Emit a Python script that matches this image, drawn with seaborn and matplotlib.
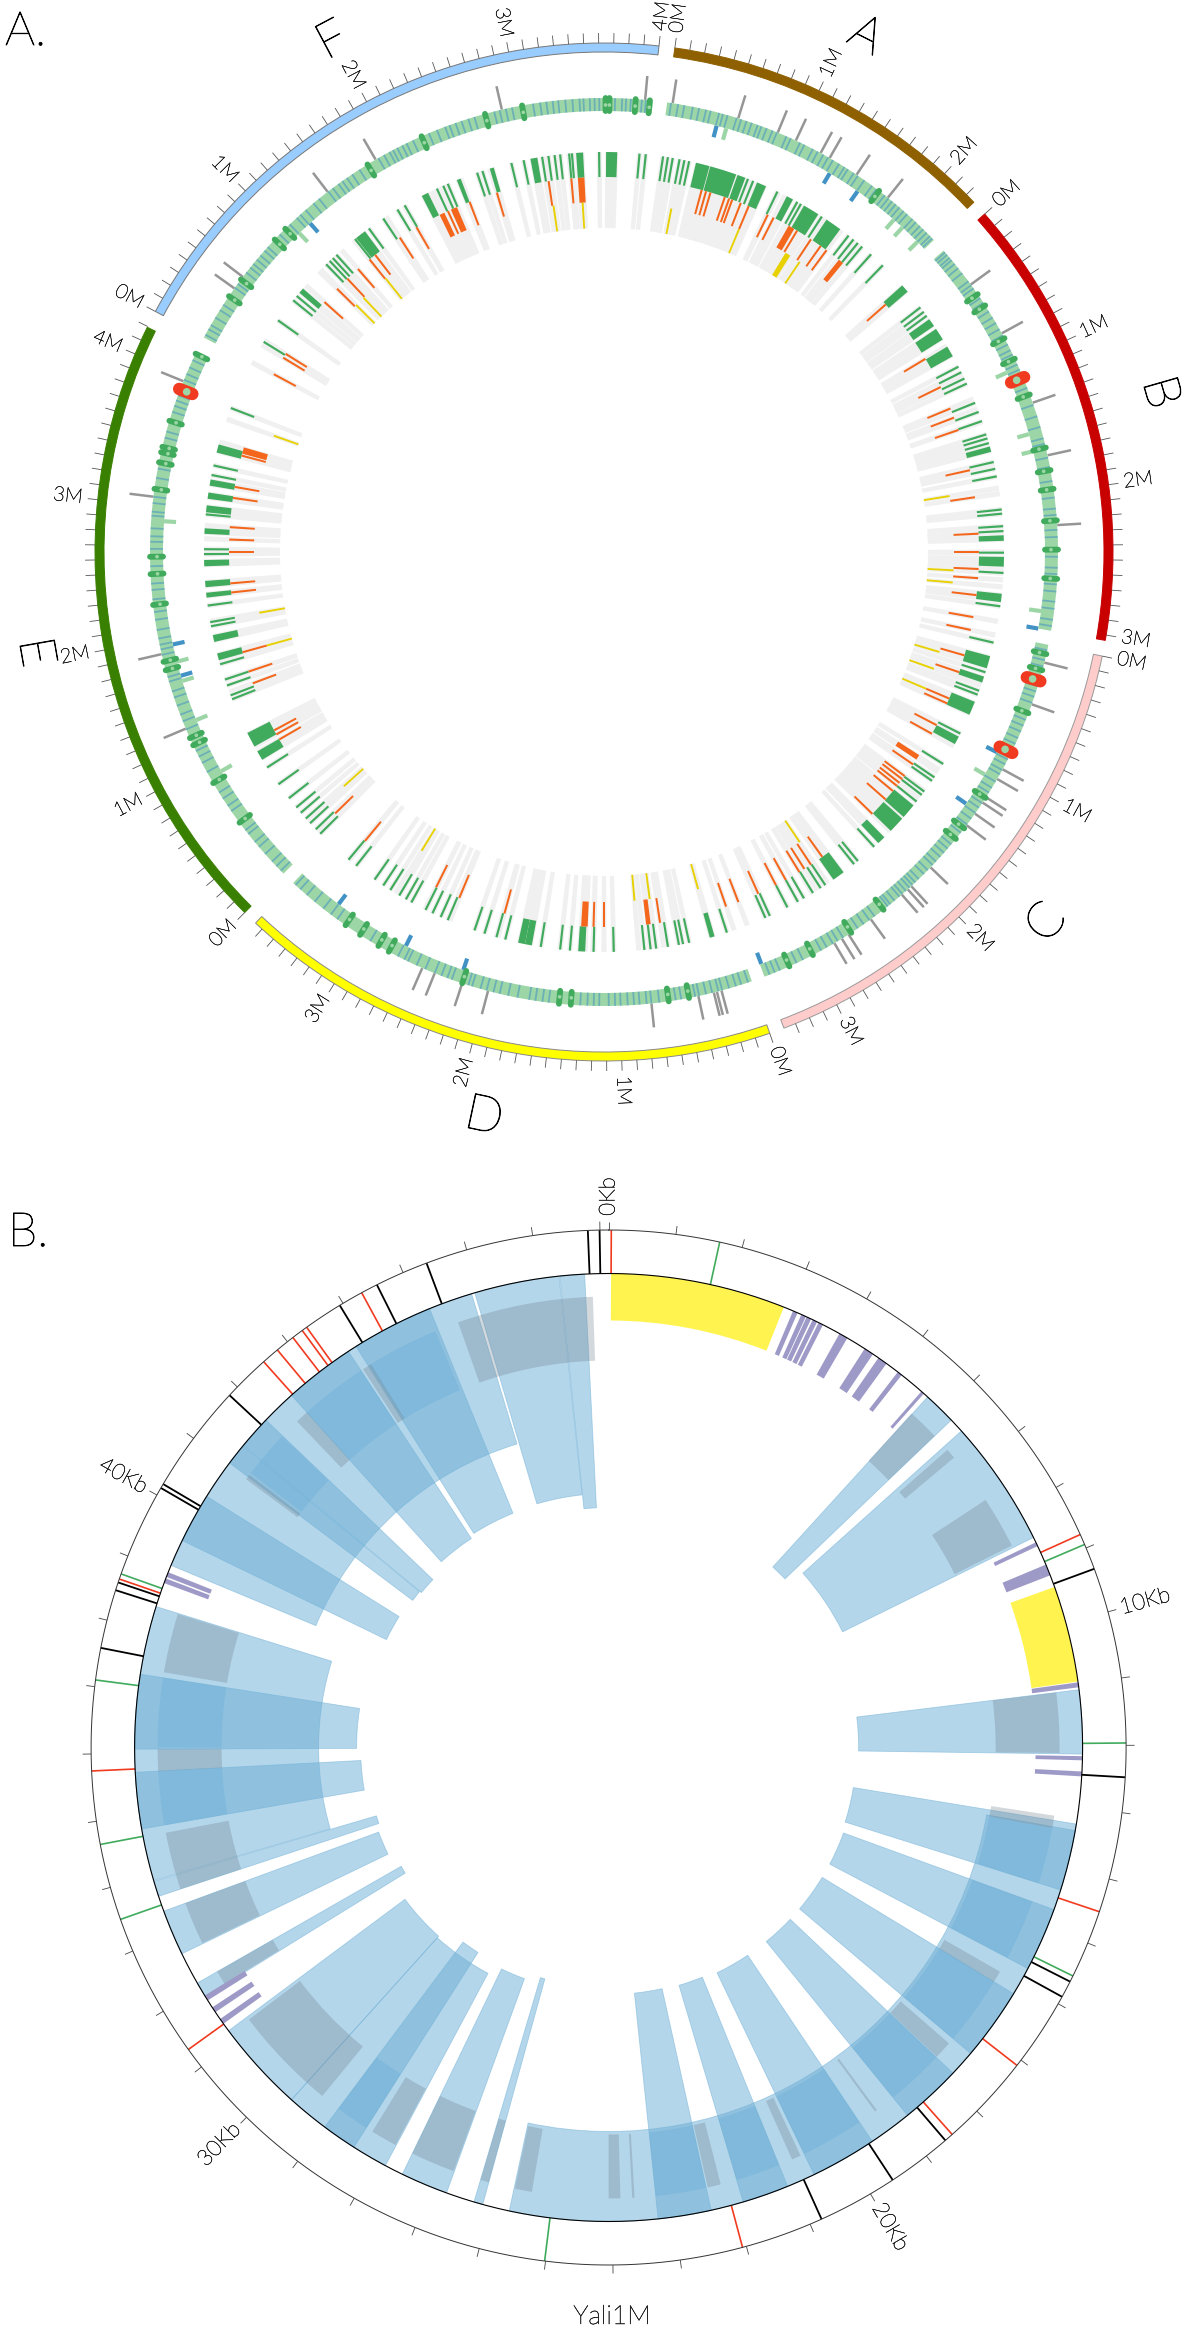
import numpy as np
import pandas as pd
import matplotlib
matplotlib.use("Agg")
import matplotlib.pyplot as plt
import matplotlib.patheffects as pe
import seaborn as sns

W, H = 1187, 2333

# ---- panel A: chromosomes (degrees clockwise from top) ----
chrom_names = ["A", "B", "C", "D", "E", "F"]
chrom_start = [8.0, 48.4, 101.8, 161.0, 224.9, 298.2]
chrom_end = [46.6, 100.0, 159.3, 223.2, 296.2, 366.2]
chrom_colors = ["#8f6000", "#c80000", "#ffcccc", "#ffff00", "#3a8000", "#99ccff"]
chrom_edges = ["#8f6000", "#c80000", "#999999", "#888888", "#3a8000", "#777777"]
chrom_mb_labels = [3, 4, 4, 4, 5, 5]
label_angle = [26.9, 74.0, 130.0, 192.0, 260.0, 332.0]
deg_per_mb = 17.0

# outer band stripes
band_blue = [
    8.5, 9.4, 10.2, 11.3, 12.1, 13.0, 13.6, 14.7, 15.2, 15.8, 17.0, 17.6, 18.3, 19.0, 19.8, 20.3, 21.0, 21.8,
    22.4, 23.7, 24.3, 25.6, 26.2, 27.4, 28.1, 28.9, 29.6, 30.3, 31.2, 32.0, 32.5, 33.4, 34.0, 35.0, 36.2, 36.9,
    38.2, 38.8, 39.4, 40.0, 40.6, 41.3, 41.9, 42.8, 43.4, 44.1, 44.7, 45.3, 45.9, 46.3,
    48.7, 49.1, 49.6, 50.0, 50.6, 51.3, 52.1, 53.4, 54.0, 54.5, 56.0, 56.7, 58.0, 58.9, 59.7, 60.6, 61.5, 62.8,
    63.6, 64.2, 65.6, 66.3, 68.0, 68.8, 71.1, 72.6, 74.0, 75.5, 76.2, 78.0, 79.2, 81.0, 83.1, 84.5, 85.3, 87.2,
    88.1, 90.6, 92.0, 92.8, 94.1, 95.0, 96.3, 97.2, 98.6, 99.4,
    102.5, 103.8, 104.6, 106.0, 107.2, 107.9, 108.6, 109.4, 111.7, 112.5, 113.3, 114.2, 115.0, 117.2, 117.9, 118.7,
    119.3, 120.4, 121.3, 122.0, 123.6, 124.3, 125.1, 126.0, 126.9, 128.2, 130.1, 130.8, 131.5, 132.2, 133.0, 133.6,
    134.5, 135.2, 136.1, 136.7, 137.2, 137.7, 138.3, 138.9, 139.4, 140.2, 140.9, 141.3, 143.4, 144.2, 145.1, 146.0,
    148.2, 149.0, 149.7, 150.6, 151.4, 154.0, 154.9, 157.2, 157.9, 158.6,
    161.5, 162.4, 163.1, 164.0, 164.9, 165.4, 166.2, 167.0, 167.9, 168.4, 170.2, 170.9, 173.0, 174.0, 174.6, 175.5,
    176.2, 177.0, 177.9, 178.6, 179.4, 180.6, 181.3, 182.1, 183.0, 187.0, 187.8, 188.7, 189.5, 191.0, 192.2, 193.3,
    194.1, 195.0, 195.8, 196.9, 197.4, 199.6, 200.2, 201.0, 201.9, 203.2, 204.4, 205.6, 206.1, 207.0, 211.0, 216.0,
    217.0, 218.2, 219.6, 220.9, 222.0, 222.8,
    225.4, 226.2, 227.0, 228.3, 229.5, 230.3, 231.6, 232.2, 235.2, 236.0, 237.1, 238.0, 241.0, 242.3, 243.2, 244.0,
    247.0, 248.1, 249.0, 250.2, 251.3, 252.1, 253.4, 254.0, 256.9, 257.6, 258.2, 259.0, 260.1, 261.4, 262.4, 264.0,
    265.2, 266.0, 268.2, 270.4, 271.3, 272.0, 273.0, 274.6, 275.1, 276.2, 277.0, 279.4, 280.6, 284.6, 285.4, 288.0,
    288.8, 289.5, 290.2, 292.3, 293.1, 294.0, 295.0,
    298.6, 299.4, 300.0, 301.1, 302.2, 303.0, 305.6, 306.2, 308.0, 308.8, 309.4, 310.1, 310.8, 311.6, 312.2, 314.4,
    316.2, 317.4, 318.0, 318.9, 320.2, 321.1, 322.6, 323.3, 324.2, 324.8, 325.5, 326.3, 327.4, 330.2, 331.0, 331.8,
    332.3, 332.9, 333.6, 334.2, 335.1, 337.3, 338.4, 339.5, 340.1, 340.9, 341.7, 342.6, 343.4, 346.0, 346.7, 347.5,
    348.3, 351.0, 351.9, 352.7, 353.5, 354.2, 355.1, 356.0, 356.9, 357.4, 358.2, 358.8, 359.4, 1.4, 2.3, 2.8, 3.4, 4.8, 5.3,
]
bead_green = [
    37.3, 55.4, 57.1, 61.9, 64.8, 69.7, 76.7, 79.6, 82.0, 86.0, 89.7, 93.4, 103.0, 105.1, 110.8, 122.8, 127.5, 129.2,
    142.0, 147.0, 152.6, 155.9, 169.2, 171.8, 184.2, 185.7, 198.2, 208.3, 209.8, 212.5, 214.7, 233.4, 239.4, 244.8,
    245.8, 254.9, 256.0, 263.3, 267.2, 269.4, 278.0, 281.4, 282.7, 283.4, 286.8, 295.9, 304.3, 306.9, 313.5, 315.4,
    328.6, 336.3, 344.8, 349.6, 0.2, 0.7, 4.0, 5.8,
]
bead_red = [67.4, 106.5, 116.2, 291.0]
spike_gray = [
    5.2, 8.7, 17.2, 22.5, 25.0, 28.5, 29.8, 33.8, 38.7, 53.9, 61.2, 70.8, 77.7, 86.6, 104.1, 109.6, 118.6, 120.0,
    122.7, 123.5, 125.2, 127.0, 134.0, 137.4, 138.0, 139.0, 144.0, 147.4, 148.4, 149.5, 165.0, 165.6, 166.0, 168.0, 174.0,
    194.8, 198.2, 201.9, 203.6, 247.1, 257.0, 277.0, 292.1, 305.5, 307.3, 322.5, 329.8, 347.0,
]
stub_blue = [14.8, 30.8, 35.1, 100.0, 117.0, 124.8, 159.1, 198.6, 206.7, 217.0, 253.7, 257.9, 318.2]
stub_light = [16.1, 41.1, 42.6, 45.3, 66.0, 74.5, 76.8, 97.7, 120.3, 240.2, 247.6, 253.0, 255.6, 274.0, 316.3]

# inner track
green_thin = [
    359.3, 5.1, 6.0, 8.5, 9.2, 9.9, 10.9, 11.6, 12.3, 21.1, 21.9, 25.7, 28.9, 29.5, 33.0, 37.7, 38.6, 39.4, 40.2,
    41.9, 44.2, 52.3, 53.1, 53.8, 62.4, 63.3, 64.3, 65.1, 68.1, 69.5, 70.9, 72.9, 73.5, 74.2, 77.0, 78.0, 79.1,
    83.9, 84.5, 86.3, 87.0, 90.1, 93.0, 97.8, 103.1, 107.5, 110.3, 110.9, 117.0, 122.0, 124.3, 124.9, 126.8, 127.4,
    128.6, 137.5, 140.6, 141.3, 146.4, 147.2, 148.5, 150.0, 151.0, 152.7, 155.5, 156.2, 162.1, 167.7, 168.6, 169.2,
    170.8, 172.5, 173.3, 174.2, 178.6, 181.5, 184.9, 186.3, 189.1, 194.3, 195.6, 197.4, 198.9, 203.0, 204.1, 205.4,
    206.5, 208.8, 209.7, 210.8, 212.3, 213.5, 215.0, 218.3, 219.7, 225.2, 226.1, 227.3, 228.2, 229.3, 230.3, 232.0,
    234.5, 237.4, 248.4, 249.0, 250.5, 251.4, 253.7, 259.3, 259.9, 262.3, 269.7, 270.4, 275.4, 281.1, 282.5, 291.1,
    301.7, 305.4, 309.0, 309.8, 316.0, 316.7, 317.3, 318.0, 321.5, 324.0, 326.5, 328.9, 330.1, 335.3, 336.3, 337.0,
    341.5, 342.3, 346.6, 348.4, 351.1, 352.0, 352.9, 353.7, 355.0, 355.4,
]
green_block_pos = [
    1.1, 14.3, 16.4, 18.3, 20.1, 23.2, 27.7, 31.2, 35.0, 48.8, 55.0, 57.0, 59.9, 75.1, 88.0, 91.4, 96.6, 106.0,
    108.6, 113.0, 118.1, 130.4, 133.0, 136.1, 144.1, 164.3, 183.2, 190.9, 191.9, 239.4, 242.0, 254.8, 257.5, 263.8,
    265.4, 268.4, 273.0, 276.2, 278.1, 280.0, 285.0, 310.8, 322.5, 333.4, 338.7, 343.7, 349.9, 356.5,
]
green_block_w = [
    1.6, 2.0, 2.0, 2.0, 1.2, 1.4, 1.0, 2.4, 2.4, 1.2, 1.2, 1.8, 1.6, 0.8, 0.8, 1.4, 1.2, 1.8,
    0.9, 2.0, 1.2, 2.2, 2.4, 1.2, 1.8, 0.7, 1.0, 1.0, 1.0, 1.4, 2.2, 1.0, 1.0, 0.7,
    0.9, 0.9, 0.8, 1.0, 0.9, 0.9, 1.2, 0.8, 1.6, 1.0, 0.6, 0.6, 1.0, 1.0,
]
orange_pos = [
    15.1, 15.8, 16.5, 18.8, 19.5, 20.0, 21.4, 22.7, 25.9, 26.9, 31.0, 33.5, 35.3, 36.4, 48.7, 59.0, 63.9, 67.5, 69.0,
    71.0, 77.4, 81.6, 87.2, 90.0, 92.6, 94.0, 96.6, 100.0, 102.0, 106.0, 108.7, 113.0, 113.8, 117.5, 119.0, 124.5,
    126.7, 127.3, 128.0, 128.6, 129.6, 131.3, 134.3, 144.4, 146.5, 147.7, 148.6, 151.0, 152.7, 155.7, 159.0, 161.0,
    171.4, 180.0, 181.6, 195.4, 202.7, 206.6, 219.6, 225.8, 240.0, 240.9, 241.6, 249.5, 251.4, 254.5, 263.8, 265.2,
    270.0, 271.9, 273.8, 278.3, 280.0, 284.9, 298.3, 301.2, 301.9, 311.8, 314.6, 316.8, 319.0, 321.3, 322.4, 327.0,
    330.0, 335.4, 339.0, 343.4, 351.5, 355.0,
]
orange_block_pos = [30.0, 39.2, 123.2, 173.2, 183.0, 285.7, 334.4, 336.4, 356.5]
orange_block_w = [1.0, 0.8, 0.8, 0.7, 1.0, 1.0, 0.8, 1.0, 1.0]
yellow_pos = [
    11.1, 22.7, 34.0, 80.8, 93.0, 95.0, 106.6, 109.5, 113.0, 146.0, 164.4, 172.5, 175.0, 211.4, 228.0, 254.5, 260.0,
    289.4, 314.9, 316.6, 321.4, 351.7, 356.5,
]
yellow_block_pos = [31.7]
yellow_block_w = [0.9]

# ---- panel B ----
kb_labels = [0, 10, 20, 30, 40]
deg_per_kb = 7.48
yellow_start = [0.3, 70.2]
yellow_end = [21.7, 82.0]
purple_pos = [23.2, 24.3, 25.0, 25.8, 26.6, 29.7, 33.3, 35.3, 37.9, 41.5, 64.6, 68.0, 82.4, 91.3, 93.2,
              234.7, 236.4, 238.1, 290.6, 291.4]
purple_w = [0.6, 0.6, 0.6, 0.6, 0.6, 1.1, 1.2, 1.2, 0.6, 0.4, 0.5, 1.4, 0.6, 0.5, 0.6, 0.7, 0.7, 0.7, 0.6, 0.6]
sector_start = [42.3, 48.1, 83.0, 99.3, 110.0, 121.3, 133.4, 146.2, 157.8, 167.5, 195.4, 200.0, 208.1, 212.5, 222.0,
                238.3, 244.2, 251.7, 260.1, 269.8, 295.9, 306.9, 309.6, 318.0, 327.8, 343.6, 354.1]
sector_end = [46.3, 63.7, 90.8, 107.5, 117.8, 130.2, 140.9, 154.3, 163.5, 174.0, 196.5, 205.8, 222.0, 216.8, 233.3,
              240.2, 249.8, 253.6, 267.0, 278.9, 302.0, 309.5, 313.7, 326.7, 337.8, 354.0, 357.1]
sector_inner = [244, 261, 250, 248, 250, 250, 250, 250, 248, 247, 240, 246, 256, 243, 254,
                239, 245, 242, 248, 252, 247, 245, 243, 250, 253, 254, 240]
band_start = [100.1, 253.7, 292.6]
band_end = [192.1, 287.3, 343.2]
band_inner = [384, 290, 317]
dark_start = [100.3, 110.0, 121.3, 133.4, 146.2, 157.8, 167.5, 212.5, 260.1, 270.0, 307.5, 318.0, 328.0]
dark_end = [107.5, 117.8, 130.2, 140.9, 154.3, 163.5, 174.0, 216.8, 267.0, 278.9, 313.6, 326.7, 337.4]
gray_start = [42.2, 48.7, 56.7, 83.0, 98.7, 119.8, 131.0, 143.5, 154.8, 165.6, 176.7, 178.5, 189.8, 195.4, 200.1,
              208.2, 219.4, 238.4, 244.3, 251.7, 267.0, 279.6, 306.5, 316.3, 327.0, 340.5]
gray_end = [46.3, 50.0, 63.4, 90.7, 100.3, 121.3, 133.3, 143.8, 156.0, 167.3, 177.0, 180.0, 192.0, 196.5, 205.8,
            211.6, 232.9, 240.2, 249.8, 259.1, 269.8, 287.2, 307.2, 318.0, 328.2, 358.0]
track_black = [93.3, 116.9, 118.8, 139.4, 146.7, 155.7, 281.1, 287.7, 288.6, 300.1, 300.6, 312.9, 328.7, 333.4, 339.4,
               357.7, 359.0, 69.8]
track_red = [0.3, 65.7, 108.5, 127.9, 138.4, 165.0, 234.3, 267.4, 289.0, 318.2, 320.2, 322.4, 323.7, 324.3, 331.5]
track_green = [12.4, 66.9, 89.5, 116.2, 187.1, 250.6, 259.2, 277.5, 289.6]

sns.set_theme(style="white")
plt.rcParams["font.family"] = ["Lato", "DejaVu Sans"]
light = sns.color_palette(["#9dd6a6", "#4292c6", "#41ab5d", "#f03b20"])


def polar_axes(fig, cx, cy, rmax):
    ax = fig.add_axes([(cx - rmax) / W, 1 - (cy + rmax) / H, 2 * rmax / W, 2 * rmax / H], polar=True)
    ax.set_theta_zero_location("N")
    ax.set_theta_direction(-1)
    return ax


def arc(ax, start, end, r0, r1, **kw):
    start, end = np.asarray(start, float), np.asarray(end, float)
    ax.bar(np.radians((start + end) / 2), r1 - r0, width=np.radians(end - start), bottom=r0, linewidth=kw.pop("linewidth", 0), **kw)


def radial(ax, pos, r0, r1, **kw):
    ax.vlines(np.radians(pos), r0, r1, **kw)


def strip(ax, pos, width, r0, r1, **kw):
    pos = np.asarray(pos, float)
    arc(ax, pos - np.asarray(width) / 2, pos + np.asarray(width) / 2, r0, r1, **kw)


def thin_text(color, stroke=0.35):
    # Lato Light comes out too pale, a hair of stroke brings it closer
    return dict(fontweight="light", color=color, path_effects=[pe.withStroke(linewidth=stroke, foreground=color)])


fig = plt.figure(figsize=(W / 100, H / 100), dpi=100, facecolor="white")

# panel A
ax = polar_axes(fig, 604, 552, 530)
for i, name in enumerate(chrom_names):
    s, e = chrom_start[i], chrom_end[i]
    arc(ax, s, e, 500, 509, color=chrom_colors[i], edgecolor=chrom_edges[i], linewidth=0.7)
    radial(ax, np.arange(s, e + 0.1, deg_per_mb / 10), 509, 519, color="#555555", linewidth=0.6)
    for mb in range(chrom_mb_labels[i]):
        t = s + mb * deg_per_mb
        rot = 90 - t if (t % 360) < 180 else 270 - t
        ax.text(np.radians(t), 539, f"{mb}M", rotation=rot, rotation_mode="anchor", ha="center", va="center",
                fontsize=14.5, **thin_text("#222222"))
    a = label_angle[i]
    rot = -a if (a < 90 or a > 270) else 180 - a
    ax.text(np.radians(a), 578, name, rotation=rot, rotation_mode="anchor", ha="center", va="center",
            fontsize=36, **thin_text("black", 0.6))
    arc(ax, s, e, 441, 454, color=light[0], zorder=2)

radial(ax, spike_gray, 454, 478, color="#969696", linewidth=1.8, zorder=1)
radial(ax, stub_light, 429, 441, color=light[0], linewidth=3, zorder=1)
radial(ax, stub_blue, 429, 441, color=light[1], linewidth=3, zorder=1)
radial(ax, band_blue, 441, 454, color=light[1], linewidth=1.3, alpha=0.55, zorder=3)
radial(ax, bead_green, 441, 454, color=light[2], linewidth=4.2, capstyle="round", zorder=4)
radial(ax, bead_red, 441, 455, color=light[3], linewidth=9, capstyle="round", zorder=4)
beads = pd.DataFrame({"theta": np.radians(bead_green), "r": 447.0})
sns.scatterplot(data=beads, x="theta", y="r", ax=ax, s=7, color=light[0], edgecolor="none", linewidth=0, zorder=5)
red_core = pd.DataFrame({"theta": np.radians(bead_red), "r": 447.0})
sns.scatterplot(data=red_core, x="theta", y="r", ax=ax, s=30, color=light[0], edgecolor="none", linewidth=0, zorder=5)

all_pos = green_thin + orange_pos + yellow_pos
strip(ax, all_pos, [0.75] * len(all_pos), 324, 400, color="#f0f0f0", zorder=1)
blocks = green_block_pos + orange_block_pos + yellow_block_pos
strip(ax, blocks, [w + 0.3 for w in green_block_w + orange_block_w + yellow_block_w], 324, 400, color="#f0f0f0", zorder=1)
strip(ax, green_thin, [0.32] * len(green_thin), 375, 400, color="#41ab5d", zorder=2)
strip(ax, green_block_pos, green_block_w, 375, 400, color="#41ab5d", zorder=2)
strip(ax, orange_pos, [0.32] * len(orange_pos), 350, 375, color="#f4661b", zorder=2)
strip(ax, orange_block_pos, orange_block_w, 350, 375, color="#f4661b", zorder=2)
strip(ax, yellow_pos, [0.32] * len(yellow_pos), 324, 350, color="#e8d100", zorder=2)
strip(ax, yellow_block_pos, yellow_block_w, 324, 350, color="#e8d100", zorder=2)
ax.set_xlim(0, 2 * np.pi)
ax.set_ylim(0, 530)
ax.set_axis_off()

# panel B
ax2 = polar_axes(fig, 608.6, 1747.5, 530)
blue = dict(color="#6baed6", alpha=0.5, edgecolor="#6baed6", linewidth=0.6)
arc(ax2, band_start, band_end, np.array(band_inner), 474, **blue)
arc(ax2, sector_start, sector_end, np.array(sector_inner), 474, **blue)
arc(ax2, dark_start, dark_end, 387, 451, color="#6baed6", alpha=0.4)
arc(ax2, gray_start, gray_end, 387, 451, color="#6e7f8c", alpha=0.3)
arc(ax2, yellow_start, yellow_end, 427, 474, color="#fff44f")
strip(ax2, purple_pos, purple_w, 427, 474, color="#9e9ac8")
radial(ax2, track_black, 474, 517.5, color="black", linewidth=1.3)
radial(ax2, track_red, 474, 517.5, color="#f03b20", linewidth=1.2)
radial(ax2, track_green, 474, 517.5, color="#41ab5d", linewidth=1.2)
theta = np.radians(np.linspace(0, 360, 721))
ax2.plot(theta, np.full_like(theta, 517.5), color="#333333", linewidth=0.7)
ax2.plot(theta, np.full_like(theta, 474), color="black", linewidth=0.8)
radial(ax2, np.arange(48.2) * deg_per_kb, 517.5, 526, color="#444444", linewidth=0.6)
for kb in kb_labels:
    t = kb * deg_per_kb
    rot = 90 - t if t < 180 else 270 - t
    r = 556 if kb != 0 else 551
    ax2.text(np.radians(t), r, f"{kb}Kb", rotation=rot, rotation_mode="anchor", ha="center", va="center",
             fontsize=16, **thin_text("#222222"))
ax2.set_xlim(0, 2 * np.pi)
ax2.set_ylim(0, 530)
ax2.set_axis_off()

fig.text(612 / W, 1 - 2317 / H, "Yali1M", ha="center", va="center", fontsize=19, **thin_text("#222222"))
fig.text(5 / W, 1 - 45 / H, "A.", ha="left", va="baseline", fontsize=34, **thin_text("black", 0.6))
fig.text(8 / W, 1 - 1246 / H, "B.", ha="left", va="baseline", fontsize=34, **thin_text("black", 0.6))

fig.savefig("out.png", dpi=100)
